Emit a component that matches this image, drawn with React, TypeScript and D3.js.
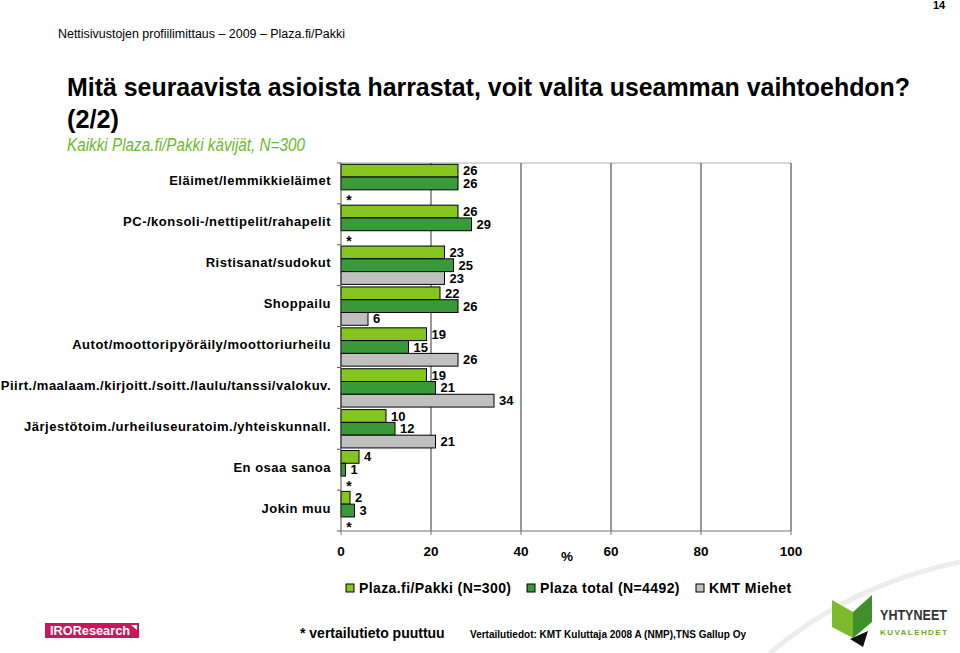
import React from "react";
import * as d3 from "d3";

const categories = [
  "Eläimet/lemmikkieläimet",
  "PC-/konsoli-/nettipelit/rahapelit",
  "Ristisanat/sudokut",
  "Shoppailu",
  "Autot/moottoripyöräily/moottoriurheilu",
  "Piirt./maalaam./kirjoitt./soitt./laulu/tanssi/valokuv.",
  "Järjestötoim./urheiluseuratoim./yhteiskunnall.",
  "En osaa sanoa",
  "Jokin muu",
];
const plazaPakki: (number | null)[] = [26, 26, 23, 22, 19, 19, 10, 4, 2];
const plazaTotal: (number | null)[] = [26, 29, 25, 26, 15, 21, 12, 1, 3];
const kmtMiehet: (number | null)[] = [null, null, 23, 6, 26, 34, 21, null, null];
const seriesNames = ["Plaza.fi/Pakki (N=300)", "Plaza total (N=4492)", "KMT Miehet"];
const seriesColors = ["#84c61e", "#3a9a3a", "#c0c0c0"];
const xTicks = [0, 20, 40, 60, 80, 100];

const FONT = "'Liberation Sans', Arial, sans-serif";
const NARROW = "'Liberation Sans Narrow', 'Arial Narrow', 'Liberation Sans', Arial, sans-serif";

export default function App() {
  const x = d3.scaleLinear().domain([0, 100]).range([341, 791]);
  const y = d3.scaleBand<string>().domain(categories).range([163, 531]).padding(0);
  const inner = d3
    .scaleBand<number>()
    .domain([0, 1, 2])
    .range([0, y.bandwidth()])
    .paddingInner(0)
    .paddingOuter(0.1);
  const series = [plazaPakki, plazaTotal, kmtMiehet];
  const boundaries = d3.range(categories.length + 1).map((i) => 163 + i * y.step());

  return (
    <svg
      width={960}
      height={653}
      style={{ position: "absolute", left: 0, top: 0, background: "#fff" }}
      fontFamily={FONT}
    >
      <rect width={960} height={653} fill="#fff" />
      {/* swoosh */}
      <path d="M 770 653 Q 850 585 960 562" fill="none" stroke="#ececec" strokeWidth={5} />

      {/* header */}
      <text x={933} y={9} fontSize={11} fontWeight="bold" fill="#000">14</text>
      <text x={58} y={38} fontSize={12.5} fontFamily={NARROW} fill="#000" textLength={287} lengthAdjust="spacingAndGlyphs">
        Nettisivustojen profiilimittaus – 2009 – Plaza.fi/Pakki
      </text>
      <text x={67} y={96} fontSize={26} fontWeight="bold" fontFamily={NARROW} fill="#000" textLength={843} lengthAdjust="spacingAndGlyphs">
        Mitä seuraavista asioista harrastat, voit valita useamman vaihtoehdon?
      </text>
      <text x={67} y={128} fontSize={26} fontWeight="bold" fontFamily={NARROW} fill="#000" textLength={52} lengthAdjust="spacingAndGlyphs">
        (2/2)
      </text>
      <text x={67} y={151} fontSize={18} fontStyle="italic" fontFamily={NARROW} fill="#6cb82a" textLength={238} lengthAdjust="spacingAndGlyphs">
        Kaikki Plaza.fi/Pakki kävijät, N=300
      </text>

      {/* plot frame top */}
      <line x1={x(0)} x2={x(100)} y1={163} y2={163} stroke="#b0b0b0" />
      {/* gridlines */}
      {xTicks.slice(1).map((t) => (
        <line key={"g" + t} x1={x(t)} x2={x(t)} y1={163} y2={531} stroke="#333" />
      ))}

      {/* bars */}
      {categories.map((c, ci) =>
        series.map((s, si) => {
          const v = s[ci];
          const by = (y(c) as number) + (inner(si) as number);
          const bh = inner.bandwidth();
          if (v === null) {
            return (
              <text key={c + si} x={x(0) + 8} y={by + bh / 2 + 9} fontSize={14} fontWeight="bold" textAnchor="middle">
                *
              </text>
            );
          }
          return (
            <g key={c + si}>
              <rect x={x(0)} y={by} width={x(v) - x(0)} height={bh} fill={seriesColors[si]} stroke="#000" strokeWidth={1} />
              <text x={x(v) + 5} y={by + bh / 2 + 4.5} fontSize={13} fontWeight="bold" fill="#000">
                {v}
              </text>
            </g>
          );
        })
      )}

      {/* axes */}
      <line x1={x(0)} x2={x(0)} y1={163} y2={531} stroke="#555" />
      <line x1={x(0)} x2={x(100)} y1={531} y2={531} stroke="#777" />
      {boundaries.map((b, i) => (
        <line key={"yt" + i} x1={337} x2={x(0)} y1={b} y2={b} stroke="#555" />
      ))}
      {xTicks.map((t) => (
        <g key={"xt" + t}>
          <line x1={x(t)} x2={x(t)} y1={531} y2={535} stroke="#777" />
          <text x={x(t)} y={556} fontSize={13.5} fontWeight="bold" textAnchor="middle">
            {t}
          </text>
        </g>
      ))}
      <text x={567} y={561} fontSize={13.5} fontWeight="bold" textAnchor="middle">%</text>

      {/* category labels */}
      {categories.map((c) => (
        <text
          key={"l" + c}
          x={331}
          y={(y(c) as number) + y.bandwidth() / 2 + 2}
          fontSize={13}
          fontWeight="bold"
          textAnchor="end"
          letterSpacing={0.5}
        >
          {c}
        </text>
      ))}

      {/* legend */}
      {[346, 527, 696].map((lx, i) => (
        <g key={"lg" + i}>
          <rect x={lx} y={584} width={8} height={8} fill={seriesColors[i]} stroke="#000" strokeWidth={1} />
          <text x={lx + 13} y={593} fontSize={14} fontWeight="bold" letterSpacing={0.4}>
            {seriesNames[i]}
          </text>
        </g>
      ))}

      {/* footer */}
      <text x={300} y={638} fontSize={14} fontWeight="bold">* vertailutieto puuttuu</text>
      <text x={470} y={638} fontSize={10.5} fontWeight="bold" textLength={276} lengthAdjust="spacingAndGlyphs">
        Vertailutiedot: KMT Kuluttaja 2008 A (NMP),TNS Gallup Oy
      </text>

      {/* IRO logo */}
      <rect x={45} y={623} width={94} height={15} fill="#c8185a" />
      <text x={50} y={635} fontSize={12} fontWeight="bold" fill="#fff" textLength={80} lengthAdjust="spacingAndGlyphs">
        IROResearch
      </text>
      <path d="M 131 625 L 137 625 L 137 630 Z" fill="#fff" />

      {/* Yhtyneet logo */}
      <polygon points="832,600 853,612 853,638 832,627" fill="#7cbc2c" />
      <polygon points="853,612 872,595 872,622 853,638" fill="#3f8f2a" />
      <polygon points="850,639 868,631 863,647" fill="#111" />
      <text x={880} y={620} fontSize={15} fontWeight="bold" fontFamily={NARROW} fill="#333" textLength={67} lengthAdjust="spacingAndGlyphs">
        YHTYNEET
      </text>
      <text x={880} y={635} fontSize={8} fontWeight="bold" fill="#6aaa2a" textLength={67} lengthAdjust="spacing">
        KUVALEHDET
      </text>
    </svg>
  );
}
